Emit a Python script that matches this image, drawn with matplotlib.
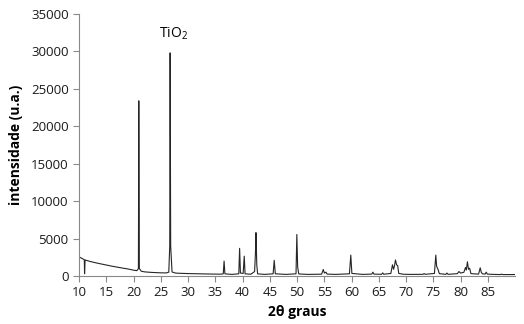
import matplotlib
matplotlib.use('Agg')
import matplotlib.pyplot as plt

# XRD pattern, vertices (2theta, counts)
two_theta = [10.0, 10.8, 10.95, 11.0, 11.1, 12.0, 13.0, 14.0, 15.0, 16.0, 17.0, 18.0, 19.0, 20.0,
             20.6, 20.88, 20.95, 21.05, 21.4, 22.0, 23.0, 24.0, 25.0, 26.0,
             26.45, 26.63, 26.7, 26.8, 27.05, 27.5, 28.0, 30.0, 32.0, 34.0, 36.0,
             36.45, 36.6, 36.75, 38.0, 39.3, 39.45, 39.6, 40.1, 40.3, 40.45,
             41.5, 42.2, 42.35, 42.45, 42.6, 42.75, 44.0, 45.6, 45.8, 46.0,
             48.0, 49.8, 49.95, 50.1, 50.3, 52.0, 54.5, 54.8, 55.0, 55.3, 55.5, 57.0,
             59.6, 59.85, 60.05, 62.0, 63.7, 63.9, 64.1, 65.5, 65.7, 65.9,
             67.2, 67.5, 67.7, 67.85, 68.05, 68.25, 68.45, 68.65, 69.5, 71.0,
             73.1, 73.3, 73.5, 75.2, 75.45, 75.6, 75.85, 76.1, 77.3, 77.5, 77.7,
             79.4, 79.7, 80.0, 80.6, 80.9, 81.05, 81.25, 81.45, 81.65, 81.9,
             83.3, 83.6, 83.8, 84.0, 84.5, 84.7, 84.9, 86.0, 87.3, 87.5, 87.7, 90.0]
intensity = [2550, 2250, 2150, 300, 2150, 1950, 1780, 1620, 1470, 1320, 1190, 1060, 940, 780,
             720, 1000, 23400, 1000, 650, 560, 500, 460, 430, 420,
             520, 4000, 29800, 4000, 550, 430, 380, 330, 300, 270, 250,
             300, 2000, 300, 220, 300, 3700, 400, 350, 2650, 300,
             240, 600, 3000, 5800, 1500, 300, 220, 300, 2100, 300,
             220, 300, 5550, 1200, 280, 220, 250, 880, 400, 520, 260, 220,
             300, 2800, 350, 220, 260, 520, 260, 230, 420, 240,
             350, 1500, 900, 1300, 2150, 1500, 1400, 350, 240, 220,
             230, 330, 230, 350, 2800, 1300, 900, 320, 230, 400, 230,
             320, 600, 400, 500, 1150, 800, 1900, 900, 1050, 320,
             260, 1100, 500, 300, 260, 520, 260, 220, 200, 260, 200, 200]

x_ticks = list(range(10, 90, 5))
y_ticks = list(range(0, 35001, 5000))

plt.rcParams['font.family'] = ['Open Sans', 'DejaVu Sans']
plt.rcParams['mathtext.fontset'] = 'custom'
plt.rcParams['mathtext.rm'] = 'Open Sans'

fig = plt.figure(figsize=(5.24, 3.24), dpi=100)
ax = fig.add_axes([0.151, 0.148, 0.832, 0.809])

ax.plot(two_theta, intensity, color='#262626', lw=0.8)

ax.set_xlim(10, 90)
ax.set_ylim(0, 35000)
ax.set_xticks(x_ticks)
ax.set_yticks(y_ticks)
ax.tick_params(labelsize=9.5, labelcolor='#1a1a1a', length=4, width=0.8, color='#898989')

for side in ['top', 'right']:
    ax.spines[side].set_visible(False)
for side in ['left', 'bottom']:
    ax.spines[side].set_color('#898989')
    ax.spines[side].set_linewidth(0.8)

ax.set_xlabel('2θ graus', fontsize=10, fontweight='bold', labelpad=4)
ax.set_ylabel('intensidade (u.a.)', fontsize=10, fontweight='bold', labelpad=6)

ax.text(27.3, 32400, r'TiO$_\mathrm{2}$', fontsize=10, ha='center', va='center')

fig.savefig('out.png', dpi=100)
